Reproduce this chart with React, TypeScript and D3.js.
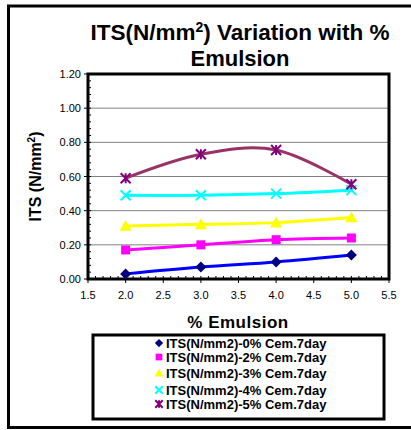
import React from "react";
import * as d3 from "d3";

const xValues = [2, 3, 4, 5];
const series0 = [0.03, 0.07, 0.1, 0.14];
const series2 = [0.17, 0.2, 0.23, 0.24];
const series3 = [0.31, 0.32, 0.33, 0.36];
const series4 = [0.49, 0.49, 0.5, 0.52];
const series5 = [0.59, 0.73, 0.755, 0.555];
const seriesNames = [
  "ITS(N/mm2)-0% Cem.7day",
  "ITS(N/mm2)-2% Cem.7day",
  "ITS(N/mm2)-3% Cem.7day",
  "ITS(N/mm2)-4% Cem.7day",
  "ITS(N/mm2)-5% Cem.7day",
];
const xTicks = [1.5, 2.0, 2.5, 3.0, 3.5, 4.0, 4.5, 5.0, 5.5];
const yTicks = [0, 0.2, 0.4, 0.6, 0.8, 1.0, 1.2];

const styles = [
  { line: "#0000FF", marker: "#000080", shape: "diamond" },
  { line: "#FF00FF", marker: "#FF00FF", shape: "square" },
  { line: "#FFFF00", marker: "#FFFF00", shape: "triangle" },
  { line: "#00FFFF", marker: "#00FFFF", shape: "x" },
  { line: "#993366", marker: "#800080", shape: "star" },
];

function Marker({ shape, color, x, y, s = 1 }: any) {
  if (shape === "diamond") {
    const r = 5.5 * s;
    return <path d={`M${x},${y - r}L${x + r},${y}L${x},${y + r}L${x - r},${y}Z`} fill={color} />;
  }
  if (shape === "square") {
    const r = 4.5 * s;
    return <rect x={x - r} y={y - r} width={2 * r} height={2 * r} fill={color} />;
  }
  if (shape === "triangle") {
    const r = 6 * s;
    return <path d={`M${x},${y - r}L${x + r},${y + r * 0.8}L${x - r},${y + r * 0.8}Z`} fill={color} />;
  }
  if (shape === "x") {
    const r = 5 * s;
    return (
      <path d={`M${x - r},${y - r}L${x + r},${y + r}M${x - r},${y + r}L${x + r},${y - r}`} stroke={color} strokeWidth={2} />
    );
  }
  const r = 5 * s;
  return (
    <path
      d={`M${x - r},${y - r}L${x + r},${y + r}M${x - r},${y + r}L${x + r},${y - r}M${x},${y - r}L${x},${y + r}`}
      stroke={color}
      strokeWidth={2}
    />
  );
}

export default function App() {
  const W = 411, H = 430;
  const left = 88, right = 389, top = 74, bottom = 279;
  const x = d3.scaleLinear().domain([1.5, 5.5]).range([left, right]);
  const y = d3.scaleLinear().domain([0, 1.2]).range([bottom, top]);
  const all = [series0, series2, series3, series4, series5];
  const line = d3
    .line<number>()
    .x((_, i) => x(xValues[i]))
    .y((d) => y(d))
    .curve(d3.curveCatmullRom.alpha(0));

  const yMinor = d3.range(0, 1.2001, 0.04);
  const xMinor = d3.range(1.5, 5.5001, 0.1);
  const font = "Arial, 'Liberation Sans', sans-serif";
  const legendRows = [343, 357, 373, 390, 404];

  return (
    <div style={{ position: "absolute", left: 0, top: 0 }}>
      <svg width={W} height={H} style={{ display: "block", fontFamily: font }}>
        <rect x={0} y={0} width={W} height={H} fill="#fff" />
        <rect x={8.5} y={6} width={420} height={421.5} fill="none" stroke="#000" strokeWidth={3} />
        <text x={240} y={40} textAnchor="middle" fontSize={22.5} fontWeight="bold">
          ITS(N/mm<tspan dy={-8} fontSize={14}>2</tspan>
          <tspan dy={8}>) Variation with %</tspan>
        </text>
        <text x={240} y={66} textAnchor="middle" fontSize={22} fontWeight="bold">
          Emulsion
        </text>
        {yTicks.slice(1).map((t) => (
          <line key={t} x1={left} x2={right} y1={y(t)} y2={y(t)} stroke="#808080" strokeWidth={1} />
        ))}
        {yMinor.map((t, i) => (
          <line key={"ym" + i} x1={left} x2={left + 3} y1={y(t)} y2={y(t)} stroke="#000" strokeWidth={1} />
        ))}
        {xMinor.map((t, i) => (
          <line key={"xm" + i} x1={x(t)} x2={x(t)} y1={bottom} y2={bottom - 3} stroke="#000" strokeWidth={1} />
        ))}
        {yTicks.map((t) => (
          <g key={"yt" + t}>
            <line x1={left - 4} x2={left} y1={y(t)} y2={y(t)} stroke="#000" strokeWidth={1} />
            <text x={left - 7} y={y(t) + 4} textAnchor="end" fontSize={11}>
              {t.toFixed(2)}
            </text>
          </g>
        ))}
        {xTicks.map((t) => (
          <g key={"xt" + t}>
            <line x1={x(t)} x2={x(t)} y1={bottom} y2={bottom + 4} stroke="#000" strokeWidth={1} />
            <text x={x(t)} y={bottom + 20} textAnchor="middle" fontSize={11}>
              {t.toFixed(1)}
            </text>
          </g>
        ))}
        <rect x={left} y={top} width={right - left} height={bottom - top} fill="none" stroke="#000" strokeWidth={3} />
        {all.map((s, k) => (
          <path key={"l" + k} d={line(s) || ""} fill="none" stroke={styles[k].line} strokeWidth={3} />
        ))}
        {all.map((s, k) =>
          s.map((v, i) => (
            <Marker key={"m" + k + i} shape={styles[k].shape} color={styles[k].marker} x={x(xValues[i])} y={y(v)} />
          ))
        )}
        <text x={238} y={328} textAnchor="middle" fontSize={17} fontWeight="bold" letterSpacing={0.5}>
          % Emulsion
        </text>
        <text
          transform={`translate(41,${(top + bottom) / 2}) rotate(-90)`}
          textAnchor="middle"
          fontSize={16}
          fontWeight="bold"
        >
          ITS (N/mm<tspan dy={-6} fontSize={10}>2</tspan>
          <tspan dy={6}>)</tspan>
        </text>
        <rect x={93} y={335} width={291} height={84} fill="#fff" stroke="#000" strokeWidth={3} />
        {seriesNames.map((n, k) => (
          <g key={"lg" + k}>
            <Marker shape={styles[k].shape} color={styles[k].marker} x={159} y={legendRows[k]} s={0.75} />
            <text x={166} y={legendRows[k] + 4.5} fontSize={13} fontWeight="bold">
              {n}
            </text>
          </g>
        ))}
      </svg>
    </div>
  );
}
